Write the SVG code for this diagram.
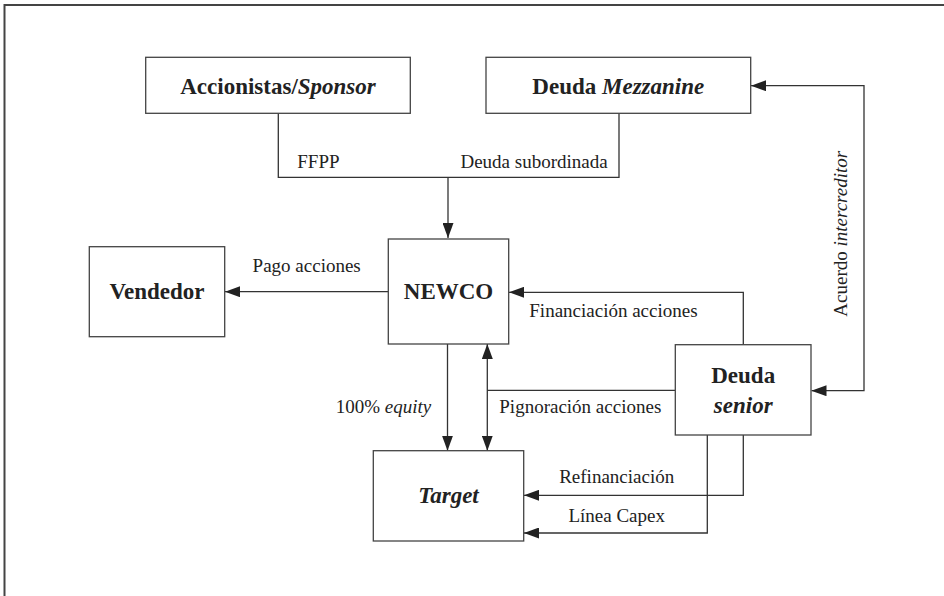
<svg xmlns="http://www.w3.org/2000/svg" width="944" height="596" viewBox="0 0 944 596">
<defs>
<style>
.box{fill:#fff;stroke:#444;stroke-width:1.3}
.ln{fill:none;stroke:#333;stroke-width:1.3}
.t{font-family:"Liberation Serif","Times New Roman",serif;font-size:19px;fill:#222}
.b{font-family:"Liberation Serif","Times New Roman",serif;font-size:23px;font-weight:bold;fill:#222}
.i{font-style:italic}
</style>
<marker id="ah" viewBox="0 0 15 11" refX="15" refY="5.5" markerWidth="15" markerHeight="11" markerUnits="userSpaceOnUse" orient="auto-start-reverse">
<path d="M0,0 L15,5.5 L0,11 Z" fill="#222"/>
</marker>
</defs>
<rect width="944" height="596" fill="#fff"/>
<path d="M4.5,596 V5 H944" fill="none" stroke="#444" stroke-width="2"/>

<g id="connectors">
<path class="ln" d="M278.3,113.3 V177.3 H619 V113.3"/>
<path class="ln" d="M448,177.3 V238" marker-end="url(#ah)"/>
<path class="ln" d="M388.3,291.7 H225" marker-end="url(#ah)"/>
<path class="ln" d="M743.3,344.7 V292.3 H509" marker-end="url(#ah)"/>
<path class="ln" d="M447.5,344 V450.7" marker-end="url(#ah)"/>
<path class="ln" d="M487.3,344 V450.7" marker-start="url(#ah)" marker-end="url(#ah)"/>
<path class="ln" d="M487.3,390.3 H675.3"/>
<path class="ln" d="M743.3,435 V495.3 H524" marker-end="url(#ah)"/>
<path class="ln" d="M707.3,435 V533 H524" marker-end="url(#ah)"/>
<path class="ln" d="M751,85.7 H864 V390.7 H811.5" marker-start="url(#ah)" marker-end="url(#ah)"/>
<text class="t" x="297.3" y="168">FFPP</text>
<text class="t" x="607.7" y="167.7" text-anchor="end">Deuda subordinada</text>
<text class="t" x="306.7" y="271.7" text-anchor="middle">Pago acciones</text>
<text class="t" x="529.3" y="316.7">Financiación acciones</text>
<text class="t" x="335.7" y="413.3">100% <tspan class="i">equity</tspan></text>
<text class="t" x="499.3" y="413.3">Pignoración acciones</text>
<text class="t" x="616.7" y="482.7" text-anchor="middle">Refinanciación</text>
<text class="t" x="616.7" y="521.7" text-anchor="middle">Línea Capex</text>
<text class="t" transform="translate(846.7,316.7) rotate(-90)">Acuerdo <tspan class="i">intercreditor</tspan></text>
</g>

<g id="accionistas">
<rect class="box" x="145.7" y="57.3" width="264.6" height="56"/>
<text class="b" x="278" y="94" text-anchor="middle">Accionistas/<tspan class="i">Sponsor</tspan></text>
</g>
<g id="mezzanine">
<rect class="box" x="486" y="57.3" width="264.7" height="56"/>
<text class="b" x="618.3" y="94" text-anchor="middle">Deuda <tspan class="i">Mezzanine</tspan></text>
</g>
<g id="vendedor">
<rect class="box" x="89.3" y="246.7" width="135.4" height="90"/>
<text class="b" x="157" y="299" text-anchor="middle">Vendedor</text>
</g>
<g id="newco">
<rect class="box" x="388.3" y="239" width="120.4" height="105"/>
<text class="b" x="448.5" y="299" text-anchor="middle">NEWCO</text>
</g>
<g id="senior">
<rect class="box" x="675.3" y="344.7" width="135.7" height="90.3"/>
<text class="b" x="743.2" y="382.7" text-anchor="middle">Deuda</text>
<text class="b i" x="743.2" y="412.7" text-anchor="middle">senior</text>
</g>
<g id="target">
<rect class="box" x="373.3" y="450.7" width="150.4" height="90.3"/>
<text class="b i" x="448.5" y="503" text-anchor="middle">Target</text>
</g>
</svg>
